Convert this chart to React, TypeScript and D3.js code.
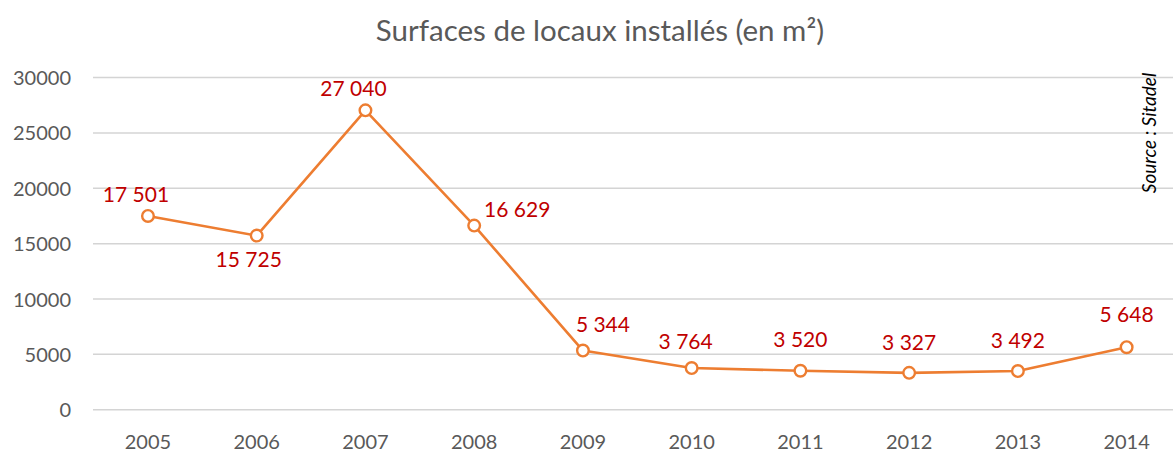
import React from "react";
import * as d3 from "d3";

// data
const years = ["2005", "2006", "2007", "2008", "2009", "2010", "2011", "2012", "2013", "2014"];
const surfaces = [17501, 15725, 27040, 16629, 5344, 3764, 3520, 3327, 3492, 5648];
const yTicks = [0, 5000, 10000, 15000, 20000, 25000, 30000];
const chartTitle = "Surfaces de locaux installés (en m²)";
const sourceNote = "Source : Sitadel";

// where each value label sits relative to its point (dx, dy of baseline)
const labelOffsets = [
    [-12, -14],
    [-8, 31],
    [-12, -14],
    [43, -9],
    [20, -19],
    [-6, -19],
    [0, -24],
    [0, -23],
    [0, -23],
    [0, -25],
];

const W = 1173;
const H = 452;
const FONT = "Lato, 'Open Sans', sans-serif";

export default function App() {
    const ref = React.useRef<HTMLDivElement>(null);

    React.useEffect(() => {
        document.body.style.margin = "0";
        d3.select(ref.current).select("svg").remove();
        drawChart();
    });

    function drawChart() {
        const svg = d3
            .select(ref.current)
            .append("svg")
            .attr("width", W)
            .attr("height", H)
            .style("display", "block")
            .style("background", "#fff");

        // plot runs past the right edge, the original chart is cropped
        const x = d3.scalePoint().domain(years).range([93.6, 1181]).padding(0.5);
        const y = d3.scaleLinear().domain([0, 30000]).range([409.7, 77.6]);

        const fmtLabel = d3.formatLocale({
            decimal: ",",
            thousands: " ",
            grouping: [3],
            currency: ["", " €"],
        }).format(",d");

        // title
        svg.append("text")
            .attr("x", 600)
            .attr("y", 41)
            .attr("text-anchor", "middle")
            .attr("font-family", FONT)
            .attr("font-size", 29.5)
            .attr("fill", "#595959")
            .text(chartTitle);

        // gridlines + y labels
        const grid = svg.append("g");
        grid.selectAll("line")
            .data(yTicks)
            .enter()
            .append("line")
            .attr("x1", 93)
            .attr("x2", W)
            .attr("y1", (d) => y(d))
            .attr("y2", (d) => y(d))
            .attr("stroke", "#d4d4d4")
            .attr("stroke-width", 1.5);
        grid.selectAll("text")
            .data(yTicks)
            .enter()
            .append("text")
            .attr("x", 71)
            .attr("y", (d) => y(d) + 7.5)
            .attr("text-anchor", "end")
            .attr("font-family", FONT)
            .attr("font-size", 20)
            .attr("fill", "#595959")
            .text((d) => d3.format("d")(d));

        // x labels
        svg.append("g")
            .selectAll("text")
            .data(years)
            .enter()
            .append("text")
            .attr("x", (d) => x(d))
            .attr("y", 449)
            .attr("text-anchor", "middle")
            .attr("font-family", FONT)
            .attr("font-size", 20)
            .attr("fill", "#595959")
            .text((d) => d);

        // line
        const line = d3
            .line<number>()
            .x((d, i) => x(years[i]))
            .y((d) => y(d));
        svg.append("path")
            .datum(surfaces)
            .attr("d", line)
            .attr("fill", "none")
            .attr("stroke", "#ed7d31")
            .attr("stroke-width", 2.6)
            .attr("stroke-linejoin", "round");

        // markers
        svg.append("g")
            .selectAll("circle")
            .data(surfaces)
            .enter()
            .append("circle")
            .attr("cx", (d, i) => x(years[i]))
            .attr("cy", (d) => y(d))
            .attr("r", 5.8)
            .attr("fill", "#fff")
            .attr("stroke", "#ed7d31")
            .attr("stroke-width", 2.4);

        // value labels
        svg.append("g")
            .selectAll("text")
            .data(surfaces)
            .enter()
            .append("text")
            .attr("x", (d, i) => x(years[i]) + labelOffsets[i][0])
            .attr("y", (d, i) => y(d) + labelOffsets[i][1])
            .attr("text-anchor", "middle")
            .attr("font-family", FONT)
            .attr("font-size", 21)
            .attr("fill", "#c00000")
            .text((d) => fmtLabel(d));

        // source, rotated
        svg.append("text")
            .attr("transform", "translate(1156,133) rotate(-90)")
            .attr("text-anchor", "middle")
            .attr("font-family", FONT)
            .attr("font-style", "italic")
            .attr("font-size", 19)
            .attr("fill", "#000")
            .text(sourceNote);
    }

    return <div className="LineChartContainer" ref={ref} />;
}
